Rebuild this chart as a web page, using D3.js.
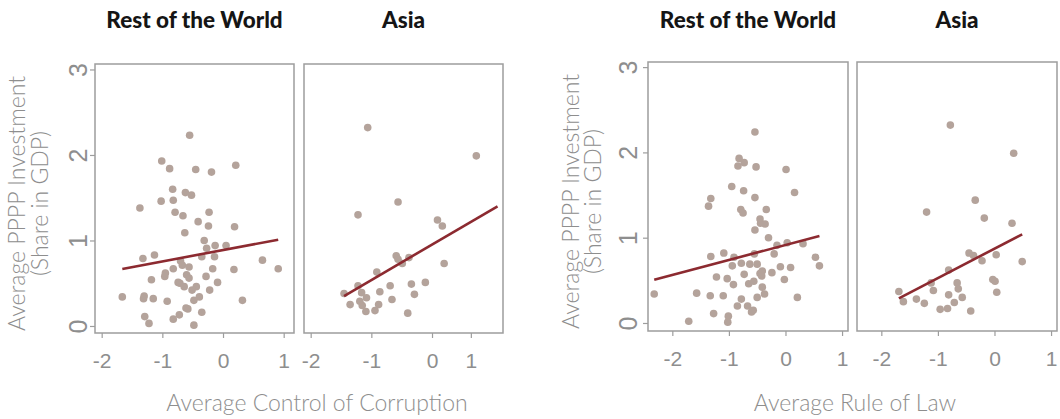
<!DOCTYPE html>
<html>
<head>
<meta charset="utf-8">
<script src="https://cdn.jsdelivr.net/npm/d3@7"></script>
<style>
  body { margin: 0; background: #fff; }
  svg { font-family: Lato, "Open Sans", sans-serif; }
  .frame { fill: none; stroke: #9d9d9d; stroke-width: 1.5; }
  .axis line { stroke: #9d9d9d; stroke-width: 1.2; }
  .axis text { fill: #8e8e8e; font-weight: 300; }
  .title { font-weight: 900; font-size: 22.5px; fill: #151515; }
  .label { fill: #8e8e8e; font-weight: 300; font-size: 23px; }
</style>
</head>
<body>
<div id="chart"></div>
<script>
// ---- data: [x, y] per country ----
const rowCorr = [[-0.55,2.23],[-1.01,1.93],[-0.88,1.84],[-0.45,1.83],[-0.19,1.80],[0.21,1.88],[-0.83,1.60],[-0.62,1.56],
  [-0.52,1.53],[-1.02,1.46],[-0.82,1.47],[-1.37,1.38],[-0.79,1.33],[-0.23,1.33],[-0.66,1.29],[-0.41,1.22],[-0.24,1.17],
  [0.19,1.16],[-0.63,1.09],[-0.31,1.00],[-0.27,0.91],[-0.13,0.94],[0.05,0.94],[-0.14,0.81],[-0.35,0.81],[-1.32,0.79],
  [-1.13,0.83],[0.65,0.77],[0.91,0.67],[0.18,0.66],[-0.17,0.67],[-0.82,0.67],[-0.67,0.71],[-0.56,0.69],[-0.60,0.60],
  [-0.56,0.56],[-0.95,0.62],[-0.96,0.58],[-1.18,0.54],[-0.28,0.58],[-0.09,0.51],[-0.74,0.51],[-0.71,0.50],[-0.64,0.46],
  [-0.44,0.46],[-0.51,0.42],[-0.22,0.42],[-1.66,0.34],[-1.30,0.35],[-1.31,0.32],[-1.15,0.32],[-0.92,0.29],[-0.39,0.34],
  [-0.48,0.30],[0.32,0.30],[-0.61,0.21],[-0.58,0.20],[-0.72,0.13],[-0.35,0.16],[-1.29,0.11],[-0.82,0.08],[-1.22,0.03],
  [-0.48,0.01],[-0.70,0.76]];
const asiaCorr = [[-1.06,2.32],[0.73,1.99],[-0.56,1.45],[-1.22,1.30],[0.09,1.24],[0.17,1.17],[-0.59,0.82],[-0.56,0.78],
  [-0.49,0.73],[-0.38,0.80],[0.20,0.73],[-0.91,0.63],[-1.45,0.38],[-1.22,0.47],[-1.16,0.39],[-1.08,0.33],[-0.86,0.40],
  [-0.69,0.47],[-0.34,0.49],[-0.29,0.37],[-0.11,0.51],[-1.35,0.25],[-1.19,0.29],[-1.15,0.24],[-1.09,0.17],[-0.94,0.18],
  [-0.88,0.25],[-0.66,0.31],[-0.40,0.15]];
const rowLaw = [[-0.54,2.24],[-0.82,1.93],[-0.73,1.88],[-0.84,1.84],[-0.52,1.83],[0.01,1.80],[-0.95,1.60],[-0.74,1.55],
  [-0.54,1.47],[0.16,1.53],[-1.32,1.46],[-1.36,1.37],[-0.79,1.33],[-0.75,1.29],[-0.34,1.33],[-0.45,1.22],[-0.44,1.17],
  [-0.36,1.16],[-0.54,1.09],[-0.30,1.00],[-0.15,0.91],[0.03,0.94],[0.31,0.93],[-0.20,0.81],[-1.32,0.78],[-1.09,0.82],
  [-0.91,0.77],[-0.55,0.81],[0.53,0.77],[0.60,0.67],[-0.94,0.67],[-0.78,0.70],[-0.63,0.69],[-0.50,0.69],[-0.09,0.66],
  [0.09,0.65],[-1.22,0.54],[-1.03,0.52],[-0.92,0.45],[-0.73,0.57],[-0.45,0.58],[-0.41,0.61],[-0.42,0.55],[-0.24,0.59],
  [-0.65,0.46],[-0.56,0.49],[-0.41,0.42],[-0.02,0.51],[-2.32,0.34],[-1.57,0.35],[-1.33,0.32],[-1.10,0.32],[-0.50,0.30],
  [-0.37,0.34],[0.21,0.30],[-0.78,0.28],[-0.85,0.20],[-0.67,0.20],[-0.57,0.15],[-0.60,0.13],[-1.27,0.11],[-1.01,0.08],
  [-1.02,0.01],[-1.71,0.02]];
const asiaLaw = [[-0.78,2.32],[0.34,1.99],[-0.34,1.44],[-1.20,1.30],[-0.18,1.23],[0.31,1.17],[-0.45,0.82],[-0.37,0.79],
  [-0.22,0.73],[0.03,0.80],[0.49,0.72],[-0.81,0.62],[-1.12,0.47],[-1.69,0.37],[-1.61,0.25],[-1.38,0.28],[-1.24,0.23],
  [-1.08,0.38],[-0.66,0.47],[-0.64,0.40],[-0.81,0.33],[-0.57,0.30],[-0.71,0.24],[-0.96,0.16],[-0.83,0.17],[-0.42,0.14],
  [-0.03,0.51],[0.01,0.49],[0.04,0.36]];

// fitted lines: [intercept, slope] and the x range they are drawn over
const rowCorrFit = [0.888, 0.133], rowCorrFitRange = [-1.66, 0.91];
const asiaCorrFit = [0.952, 0.415], asiaCorrFitRange = [-1.45, 1.08];
const rowLawFit = [0.914, 0.175], rowLawFitRange = [-2.32, 0.60];
const asiaLawFit = [0.871, 0.344], asiaLawFitRange = [-1.69, 0.49];

// ticks
const xTickValues = [-2, -1, 0, 1];
const asiaCorrTickValues = [-2, -1, 0, 0.64]; // the "1" sits off-grid in the source
const xTickLabels = ['-2', '-1', '0', '1'];
const yTickValues = [0, 1, 2, 3];
const yTickLabels = ['0', '1', '2', '3'];
const panelTitles = ['Rest of the World', 'Asia'];
const xTitles = ['Average Control of Corruption', 'Average Rule of Law'];
const yTitleLines = ['Average PPPP Investment', '(Share in GDP)'];

// ---- layout ----
const W = 1060, H = 419;
const figures = [
  { xTitle: xTitles[0], xTitleX: 317, top: 64, h: 269, lefts: [95, 304], w: 199,
    xDomain: [-2.11, 1.17], yDomain: [-0.082, 3.064], yLabelOff: 8, yTitleX: [25, 48],
    panels: [
      { title: panelTitles[0], pts: rowCorr, fit: rowCorrFit, range: rowCorrFitRange, ticks: xTickValues },
      { title: panelTitles[1], pts: asiaCorr, fit: asiaCorrFit, range: asiaCorrFitRange, ticks: asiaCorrTickValues }
    ] },
  { xTitle: xTitles[1], xTitleX: 855, top: 62, h: 269, lefts: [648, 857], w: 200,
    xDomain: [-2.43, 1.105], yDomain: [-0.094, 3.06], yLabelOff: 11, yTitleX: [579, 601],
    panels: [
      { title: panelTitles[0], pts: rowLaw, fit: rowLawFit, range: rowLawFitRange, ticks: xTickValues },
      { title: panelTitles[1], pts: asiaLaw, fit: asiaLawFit, range: asiaLawFitRange, ticks: xTickValues }
    ] }
];

const svg = d3.select('#chart').append('svg')
  .attr('width', W)
  .attr('height', H);

figures.forEach(fig => {
  const y = d3.scaleLinear(fig.yDomain, [fig.top + fig.h, fig.top]);
  const yMid = fig.top + fig.h / 2 + 5;

  // y axis title, two rotated lines
  yTitleLines.forEach((t, i) => {
    svg.append('text')
      .attr('class', 'label')
      .attr('text-anchor', 'middle')
      .attr('transform', `translate(${fig.yTitleX[i]},${yMid}) rotate(-90)`)
      .text(t);
  });

  // x axis title
  svg.append('text')
    .attr('class', 'label')
    .attr('x', fig.xTitleX)
    .attr('y', 411)
    .attr('text-anchor', 'middle')
    .text(fig.xTitle);

  fig.panels.forEach((p, i) => {
    const left = fig.lefts[i];
    const x = d3.scaleLinear(fig.xDomain, [left, left + fig.w]);

    svg.append('text')
      .attr('class', 'title')
      .attr('x', left + fig.w / 2)
      .attr('y', 28)
      .attr('text-anchor', 'middle')
      .text(p.title);

    // x axis (ticks below the frame)
    const xAxis = d3.axisBottom(x)
      .tickValues(p.ticks)
      .tickFormat((d, k) => xTickLabels[k])
      .tickSize(5)
      .tickPadding(15);
    const gx = svg.append('g')
      .attr('class', 'axis')
      .attr('transform', `translate(0,${fig.top + fig.h})`)
      .call(xAxis);
    gx.select('.domain').remove();
    gx.selectAll('text').attr('font-size', 21).attr('font-family', null);

    // y axis only on the first panel, labels rotated
    if (i === 0) {
      const yAxis = d3.axisLeft(y)
        .tickValues(yTickValues)
        .tickFormat((d, k) => yTickLabels[k])
        .tickSize(5);
      const gy = svg.append('g')
        .attr('class', 'axis')
        .attr('transform', `translate(${left},0)`)
        .call(yAxis);
      gy.select('.domain').remove();
      gy.selectAll('text')
        .attr('font-size', 25)
        .attr('font-family', null)
        .attr('x', null)
        .attr('dy', null)
        .attr('text-anchor', 'middle')
        .attr('transform', `translate(${-fig.yLabelOff},0) rotate(-90)`);
    }

    svg.append('rect')
      .attr('class', 'frame')
      .attr('x', left)
      .attr('y', fig.top)
      .attr('width', fig.w)
      .attr('height', fig.h);

    svg.append('g').selectAll('circle')
      .data(p.pts)
      .join('circle')
      .attr('cx', d => x(d[0]))
      .attr('cy', d => y(d[1]))
      .attr('r', 3.8)
      .attr('fill', '#b4a39b');

    const fitY = v => p.fit[0] + p.fit[1] * v;
    svg.append('line')
      .attr('x1', x(p.range[0]))
      .attr('y1', y(fitY(p.range[0])))
      .attr('x2', x(p.range[1]))
      .attr('y2', y(fitY(p.range[1])))
      .attr('stroke', '#8c2a30')
      .attr('stroke-width', 2.6);
  });
});
</script>
</body>
</html>
